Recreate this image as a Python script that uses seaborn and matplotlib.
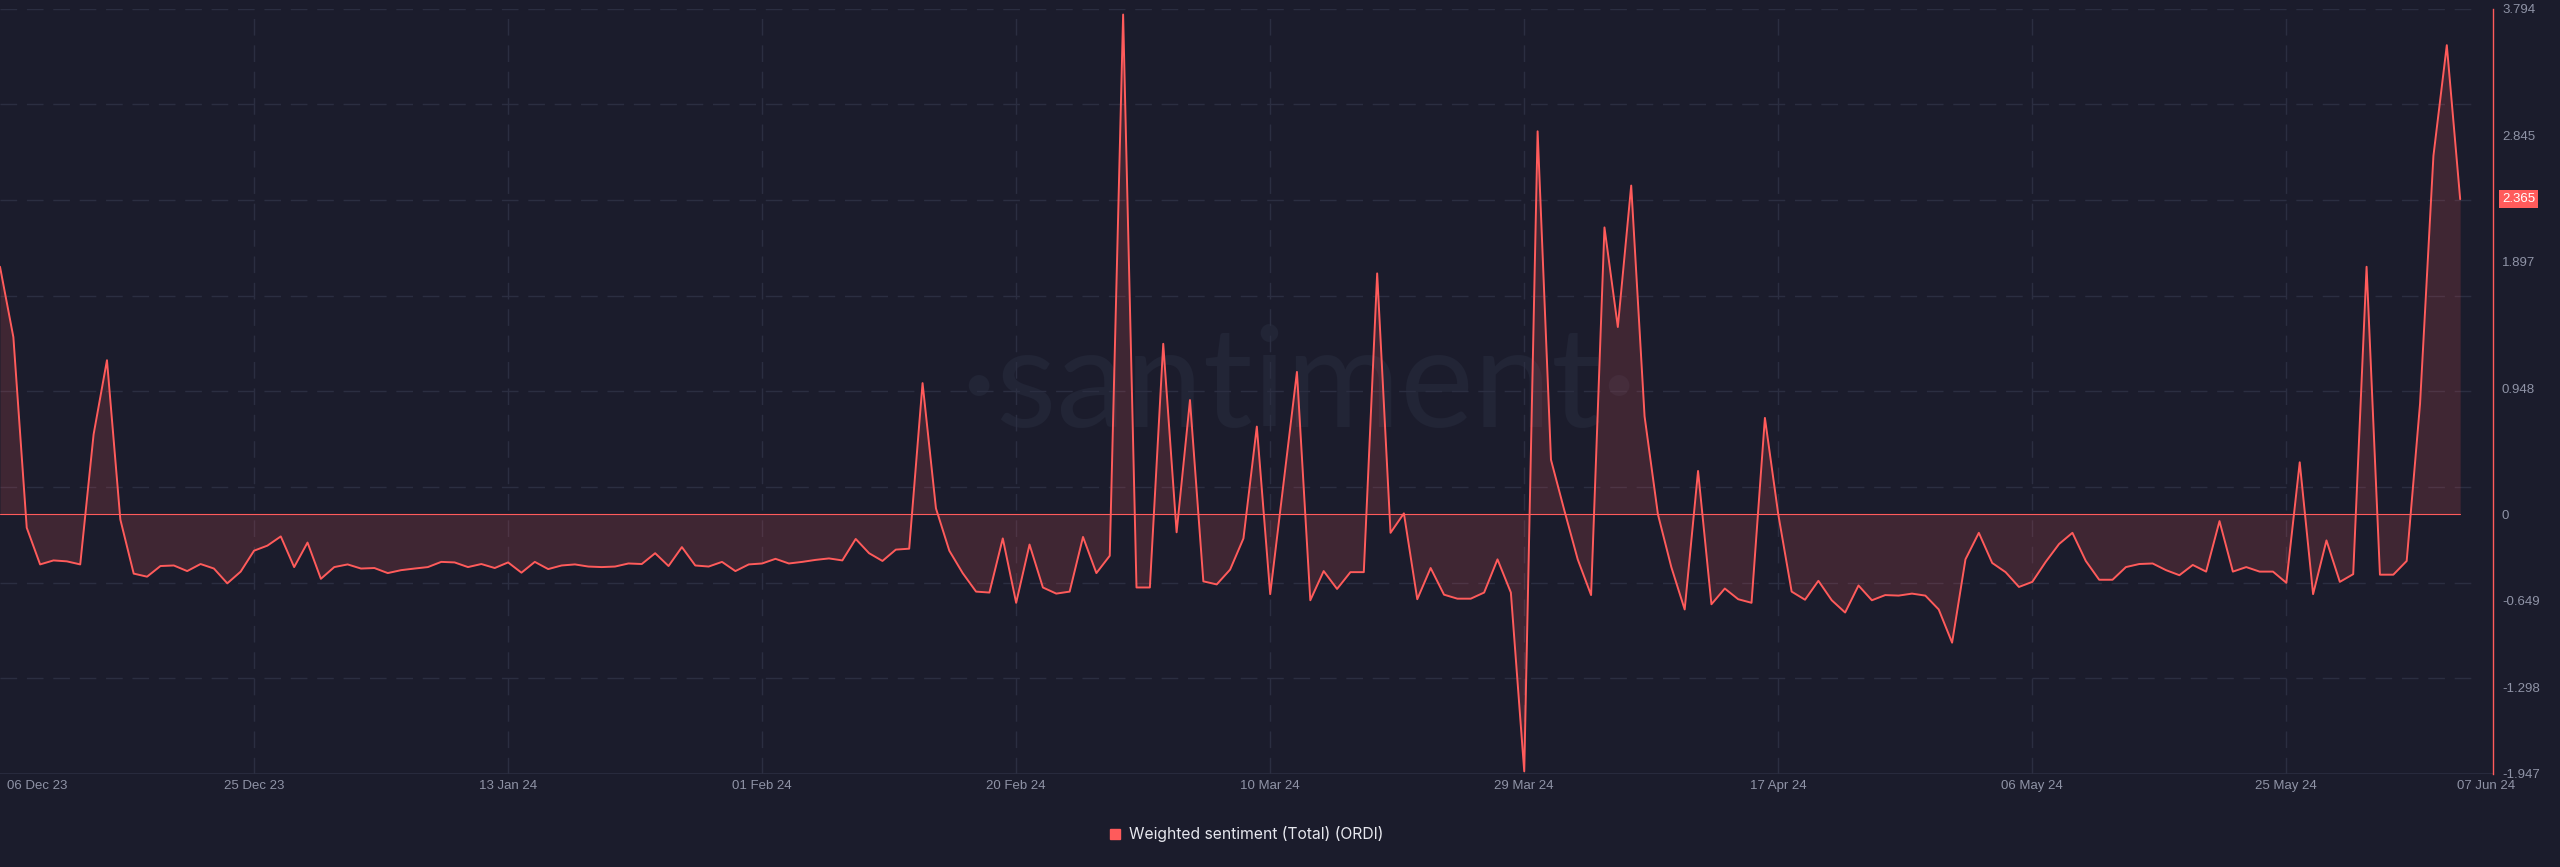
import numpy as np
import pandas as pd
import matplotlib.pyplot as plt
import matplotlib.dates as mdates
import matplotlib.transforms as mtransforms
from matplotlib.lines import Line2D
import seaborn as sns

# Data: daily weighted sentiment (ORDI), 06 Dec 23 .. 07 Jun 24
dates = pd.date_range('2023-12-06', '2024-06-07', freq='D')
sentiment = [
    1.858, 1.33, -0.10, -0.375, -0.345, -0.352, -0.375, 0.60, 1.157, -0.038,
    -0.444, -0.467, -0.387, -0.383, -0.425, -0.372, -0.406, -0.517, -0.429, -0.272,
    -0.234, -0.165, -0.395, -0.211, -0.483, -0.395, -0.375, -0.406, -0.402, -0.44,
    -0.418, -0.406, -0.395, -0.356, -0.36, -0.395, -0.372, -0.402, -0.36, -0.437,
    -0.356, -0.41, -0.383, -0.375, -0.391, -0.395, -0.391, -0.368, -0.372, -0.291,
    -0.387, -0.245, -0.383, -0.391, -0.356, -0.425, -0.375, -0.368, -0.333, -0.368,
    -0.356, -0.341, -0.33, -0.345, -0.184, -0.291, -0.349, -0.264, -0.257, 0.985,
    0.046, -0.272, -0.44, -0.579, -0.586, -0.18, -0.663, -0.226, -0.548, -0.594,
    -0.579, -0.169, -0.44, -0.31, 3.75, -0.548, -0.548, 1.28, -0.134, 0.858,
    -0.502, -0.525, -0.414, -0.18, 0.659, -0.598, 0.235, 1.069, -0.644, -0.425,
    -0.559, -0.433, -0.433, 1.808, -0.138, 0.008, -0.636, -0.402, -0.602, -0.632,
    -0.632, -0.586, -0.337, -0.586, -1.927, 2.874, 0.41, 0.03, -0.337, -0.605,
    2.153, 1.406, 2.467, 0.736, 0.0, -0.395, -0.713, 0.326, -0.674, -0.556,
    -0.636, -0.663, 0.724, 0.0, -0.579, -0.64, -0.498, -0.644, -0.736, -0.533,
    -0.644, -0.605, -0.609, -0.594, -0.609, -0.713, -0.962, -0.337, -0.138, -0.364,
    -0.433, -0.544, -0.506, -0.356, -0.222, -0.138, -0.349, -0.49, -0.49, -0.395,
    -0.372, -0.368, -0.418, -0.456, -0.379, -0.429, -0.05, -0.429, -0.395, -0.429,
    -0.429, -0.513, 0.391, -0.598, -0.195, -0.506, -0.448, 1.858, -0.452, -0.452,
    -0.349, 0.831, 2.69, 3.52, 2.365,
]
tick_dates = ['2023-12-06', '2023-12-25', '2024-01-13', '2024-02-01', '2024-02-20',
              '2024-03-10', '2024-03-29', '2024-04-17', '2024-05-06', '2024-05-25',
              '2024-06-07']
tick_labels = ['06 Dec 23', '25 Dec 23', '13 Jan 24', '01 Feb 24', '20 Feb 24',
               '10 Mar 24', '29 Mar 24', '17 Apr 24', '06 May 24', '25 May 24',
               '07 Jun 24']
y_ticks = [3.794, 2.845, 1.897, 0.948, 0, -0.649, -1.298, -1.947]
y_tick_labels = ['3.794', '2.845', '1.897', '0.948', '0', '-0.649', '-1.298', '-1.947']
series_name = 'Weighted sentiment (Total) (ORDI)'

df = pd.DataFrame({'date': dates, 'value': sentiment})

bg = '#1b1c2c'
red = '#ff5b5b'
grid_c = '#2b2e41'
tick_c = '#8f93a6'

sns.set_theme(style='dark', rc={'axes.facecolor': bg, 'figure.facecolor': bg})
plt.rcParams['font.family'] = ['Liberation Sans', 'DejaVu Sans']

fig = plt.figure(figsize=(25.6, 8.67), dpi=100)
ax = fig.add_axes([0, 0.1073, 0.9738, 0.8827])
ax.set_facecolor(bg)

ymin, ymax = -1.947, 3.794
x0 = mdates.date2num(dates[0])
ax.set_xlim(x0, x0 + 186.45)
ax.set_ylim(ymin, ymax)

# watermark
ax.text(0.521, 0.505, '·santiment·', transform=ax.transAxes, ha='center', va='center',
        fontsize=100, color='#222536', family=['Lato', 'DejaVu Sans'], fontweight='normal',
        zorder=0)

# grid
for gy in np.linspace(ymin, ymax, 9)[1:]:
    ax.axhline(gy, color=grid_c, lw=1.0, ls=(0, (12, 7)), xmax=0.995, zorder=1)
ax.axhline(ymin, color=grid_c, lw=1.2, zorder=1)
for td in tick_dates[1:-1]:
    ax.axvline(pd.Timestamp(td), color=grid_c, lw=1.0, ls=(0, (12, 7)), zorder=1)

ax.fill_between(df['date'], df['value'], 0, color=red, alpha=0.16, lw=0, zorder=2)
ax.plot([dates[0], dates[-1]], [0, 0], color=red, lw=0.8, zorder=3)
sns.lineplot(data=df, x='date', y='value', ax=ax, color=red, lw=1.4, zorder=4, legend=False)

for s in ['top', 'left', 'bottom']:
    ax.spines[s].set_visible(False)
ax.spines['right'].set_color(red)
ax.spines['right'].set_linewidth(1.0)

ax.set_xlabel('')
ax.set_ylabel('')
ax.set_xticks([pd.Timestamp(t) for t in tick_dates])
ax.set_xticklabels(tick_labels)
ax.yaxis.tick_right()
ax.set_yticks(y_ticks)
ax.set_yticklabels(y_tick_labels)
ax.tick_params(axis='x', length=0, pad=4, labelsize=9.5, colors=tick_c)
ax.tick_params(axis='y', length=0, pad=6.5, labelsize=9.5, colors=tick_c)
ax.grid(False)

xl = ax.get_xticklabels()
xl[0].set_ha('left')
xl[0].set_transform(xl[0].get_transform() + mtransforms.ScaledTranslation(0.07, 0, fig.dpi_scale_trans))
xl[-1].set_transform(xl[-1].get_transform() + mtransforms.ScaledTranslation(0.26, 0, fig.dpi_scale_trans))

# last value badge
last = sentiment[-1]
badge_tr = mtransforms.blended_transform_factory(ax.transAxes, ax.transData) + \
    mtransforms.ScaledTranslation(0.09, 0, fig.dpi_scale_trans)
ax.text(1.0, last, f'{last:.3f}', transform=badge_tr, ha='left', va='center',
        fontsize=9.5, color='white',
        bbox=dict(boxstyle='square,pad=0.25', facecolor=red, edgecolor='none'))

handle = Line2D([], [], marker='s', color=red, linestyle='none', markersize=7.5)
fig.legend(handles=[handle], labels=[series_name], loc='center',
           bbox_to_anchor=(1246 / 2560, 1 - 834 / 867), frameon=False,
           handlelength=0.8, handletextpad=0.5, labelcolor='#e6e7ee',
           prop={'family': ['Inter', 'DejaVu Sans'], 'size': 11.3})

fig.savefig('out.png', dpi=100, facecolor=bg)
